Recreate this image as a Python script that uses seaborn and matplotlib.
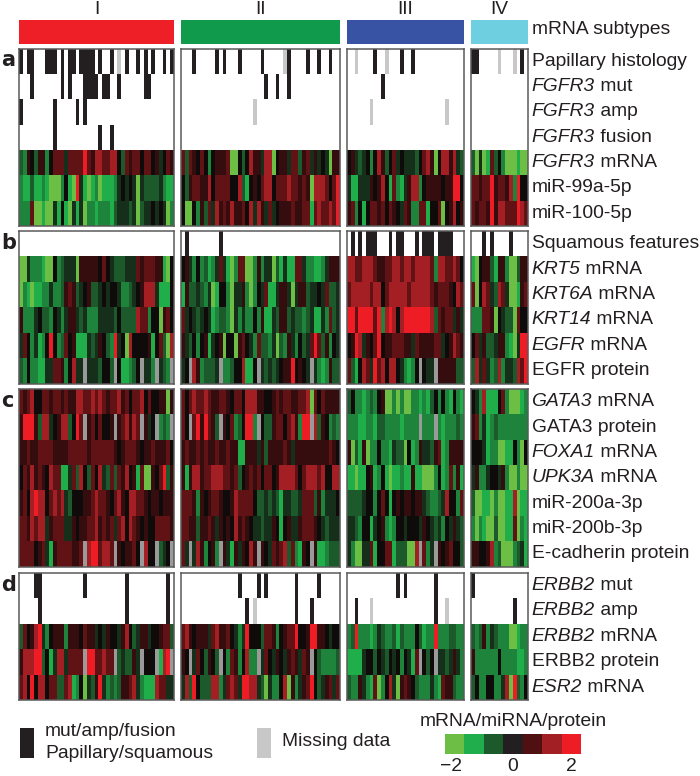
import numpy as np
import seaborn as sns
import matplotlib
matplotlib.use("Agg")
import matplotlib.pyplot as plt
from matplotlib.colors import LinearSegmentedColormap, ListedColormap
from matplotlib.transforms import ScaledTranslation

subtypes = ["I", "II", "III", "IV"]
subtype_sizes = [41, 42, 31, 15]

# level codes, light green (1) through black (6) to bright red (R), x = missing
level_values = {"1": -2, "2": -1.33, "3": -1, "4": -0.67, "5": -0.3, "6": 0,
                "7": 0.4, "8": 0.8, "9": 1.33, "R": 2}

# binary rows: sample positions per subtype
papillary = [[0, 2, 3, 7, 8, 9, 11, 13, 14, 16, 17, 18, 19, 21, 24, 28, 31, 33, 35, 38, 40],
             [3, 9, 11, 15, 21, 28, 33, 36, 39], [7, 14, 17], [0, 1, 13]]
papillary_missing = [[26], [27], [2, 10], [7, 11]]
fgfr3_mut = [[3, 11, 13, 17, 18, 19, 20, 22, 23, 26, 33, 34], [22, 25, 28], [9], []]
fgfr3_mut_missing = [[], [], [], []]
fgfr3_amp = [[0, 9, 15, 17], [], [], []]
fgfr3_amp_missing = [[], [19], [6, 26], []]
fgfr3_fusion = [[9, 21, 24], [], [], []]
fgfr3_fusion_missing = [[], [], [], []]
squamous = [[], [1, 10], [1, 3, 5, 6, 7, 11, 13, 14, 18, 20, 21, 22, 24, 25, 26, 27], [3, 5, 10]]
squamous_missing = [[], [], [], []]
erbb2_mut = [[4, 5, 17, 28, 39], [15, 20, 22, 30, 36], [13, 15, 23], [0]]
erbb2_mut_missing = [[], [], [], []]
erbb2_amp = [[5, 28, 39], [17, 30, 34], [2, 23], [11]]
erbb2_amp_missing = [[], [19], [6, 26], []]

# heat rows: one string per subtype
fgfr3_mrna = ["4376477368 8858888R87 9988996487 8868867568 7",
              "8487686367 7781164697 7599167758 8478575651 77",
              "6754563697 4685655546 8971699795 4", "415128463111211"]
mir99a = ["3224223211 13621R5212 3122235656 5154444532 2",
          "6478877968 8886694267 6899688898 8787199986 8R",
          "5225557679 6283257993 67777677RR 6", "88788R788793R66"]
mir100 = ["3338112115 2621525133 2333245554 5145565651 3",
          "6116374859 7879778695 9758567778 7788289889 8R",
          "7836268878 6876587338 8266816796 7", "87887R799888R98"]
krt5 = ["1153332116 3455517777 7686544455 5878887721 6",
        "6753634235 8521388113 7355142522 8853322357 77",
        "9988999877 8899899899 9983998898 6", "216774277311477"]
krt6a = ["1321223353 3478745674 4565665334 5679995222 6",
         "2744543512 6631557313 6582257751 5774556584 45",
         "8999998996 8999998999 9987888769 8", "816985498511278"]
krt14 = ["7333564436 5357754533 3555546444 4988366178 6",
         "8565456523 4431535336 3722547745 4434522538 45",
         "RR8RRRR8R3 9R969RRRRR RR94878857 5", "333887165441866"]
egfr_mrna = ["58635236R6 3486722254 57643R5619 6666726841 9",
             "7546367256 7166178653 8443514375 364 58R8473 65",
             "67R95768R6 7788877587 7778856798 7", "6857445773215RR"]
egfr_prot = ["4363322558 8736955x55 54664x6223 46x553x543 x",
             "56x9734445 x334669226 x54545677R 6765x53237 44",
             "8426985R89 699653236x 655x777774 4", "49585349355498R"]
gata3_mrna = ["8789668878 8787799889 8987889786 8896866771 7",
              "8689889877 8876886999 7766787887 7889186877 77",
              "4633234367 1131311332 3246363263 2", "653922268311123"]
gata3_prot = ["7RRR749956 79946R8x78 68667x7897 98x756x343 x",
              "86x8R7R874 x76834 6RR3 x644788689 73RRx94763 43",
              "3332233244 333323333x 333x323334 3", "783523433333333"]
foxa1 = ["7787788887 7778888878 8888876788 8767787778 6",
         "7877878778 7787722777 5747777875 7777777778 76",
         "7142713363 3254416237 5547823777 7", "666523311226316"]
upk3a = ["6879787698 8225849648 6954848796 72811768R4 7",
         "7279978899 9887846787 8688679999 8689998966 99",
         "2212267236 2122322722 1113623837 2", "573356657311311"]
mir200a = ["7869R99689 8954666778 9887689769 9887677677 7",
           "8887376788 7667988886 4454542554 4588847355 56",
           "4444566368 6267677677 5433459663 8", "411221311229122"]
mir200b = ["8879899578 8855767788 9787858969 8767668888 7",
           "8877477875 7676978765 5455762675 5788876545 55",
           "5543662567 3236656665 7654536575 4", "313211411228132"]
ecad = ["8888678527 8888778x9R R8998x7677 86x966x456 x",
        "85x5973673 x752757697 x765878948 3276x72234 44",
        "5311558266 8824441 19x 835x767866 4", "776679341113452"]
erbb2_mrna = ["486 79R5367 7737776877 5657665796 4577566788 4",
              "8976777589 7786535R66 6488736788 R667RR7765 66",
              "34R3332354 3342433364 233R333443 3", "434735433311233"]
erbb2_prot = ["7999RR4625 9958888xRR 889 88x4544 75x666x29R x",
              "76x5864764 x638736933 x586576578 7587x64333 34",
              "2222566465 465636528x 646x554575 3", "733333363333223"]
esr2 = ["896R699688 4489236154 7R53434778 9532229885 5",
        "594R644499 358985RR99 5415336917 3578R64578 58",
        "4337532813 6951787643 3353287743 3", "46336633591R436"]

block_a = [("b", papillary, papillary_missing), ("b", fgfr3_mut, fgfr3_mut_missing),
           ("b", fgfr3_amp, fgfr3_amp_missing), ("b", fgfr3_fusion, fgfr3_fusion_missing),
           ("h", fgfr3_mrna), ("h", mir99a), ("h", mir100)]
block_b = [("b", squamous, squamous_missing), ("h", krt5), ("h", krt6a), ("h", krt14),
           ("h", egfr_mrna), ("h", egfr_prot)]
block_c = [("h", gata3_mrna), ("h", gata3_prot), ("h", foxa1), ("h", upk3a),
           ("h", mir200a), ("h", mir200b), ("h", ecad)]
block_d = [("b", erbb2_mut, erbb2_mut_missing), ("b", erbb2_amp, erbb2_amp_missing),
           ("h", erbb2_mrna), ("h", erbb2_prot), ("h", esr2)]

# (italic part, plain part)
labels_a = [("", "Papillary histology"), ("FGFR3", " mut"), ("FGFR3", " amp"), ("FGFR3", " fusion"),
            ("FGFR3", " mRNA"), ("", "miR-99a-5p"), ("", "miR-100-5p")]
labels_b = [("", "Squamous features"), ("KRT5", " mRNA"), ("KRT6A", " mRNA"), ("KRT14", " mRNA"),
            ("EGFR", " mRNA"), ("", "EGFR protein")]
labels_c = [("GATA3", " mRNA"), ("", "GATA3 protein"), ("FOXA1", " mRNA"), ("UPK3A", " mRNA"),
            ("", "miR-200a-3p"), ("", "miR-200b-3p"), ("", "E-cadherin protein")]
labels_d = [("ERBB2", " mut"), ("ERBB2", " amp"), ("ERBB2", " mRNA"), ("", "ERBB2 protein"), ("ESR2", " mRNA")]

legend_values = [-2, -1.33, -0.67, 0, 0.67, 1.33, 2]
legend_colors = ["#6cbe45", "#1fae4b", "#1d5a2b", "#0e0b0b", "#500f10", "#a21f24", "#ee1c25"]
legend_bin_colors = ["#231f20", "#c8c8c8"]
subtype_colors = ["#ee1f27", "#0f9b4b", "#3953a4", "#6dcfe0"]

W, H = 700, 776
plt.rcParams["font.family"] = ["Liberation Sans", "DejaVu Sans"]
TXT = "#231f20"
FS = 13.9

heat_cmap = LinearSegmentedColormap.from_list(
    "gbr", [((v + 2) / 4, c) for v, c in zip(legend_values, legend_colors)])
flag_cmap = ListedColormap(["white", "#c8c8c8", "#231f20"])

fig = plt.figure(figsize=(W / 100, H / 100), dpi=100)


def px_axes(x0, y0, x1, y1):
    return fig.add_axes([x0 / W, 1 - y1 / H, (x1 - x0) / W, (y1 - y0) / H])


def draw_block(rows, j, ax):
    n = subtype_sizes[j]
    heat = np.full((len(rows), n), np.nan)
    flags = np.full((len(rows), n), np.nan)
    for r, row in enumerate(rows):
        if row[0] == "b":
            flags[r] = 0
            flags[r, row[2][j]] = 1
            flags[r, row[1][j]] = 2
        else:
            codes = row[1][j].replace(" ", "")
            assert len(codes) == n, (r, j, len(codes))
            heat[r] = [level_values.get(c, np.nan) for c in codes]
    ax.set_facecolor("#9a9a9a")
    sns.heatmap(heat, ax=ax, cmap=heat_cmap, vmin=-2, vmax=2, cbar=False,
                xticklabels=False, yticklabels=False)
    sns.heatmap(flags, ax=ax, cmap=flag_cmap, vmin=0, vmax=2, cbar=False,
                xticklabels=False, yticklabels=False)
    for s in ax.spines.values():
        s.set_visible(True)
        s.set_color("#5a5a5a")
        s.set_linewidth(1.1)


def put_label(italic, plain, y):
    if italic:
        t = fig.text(531.5 / W, 1 - y / H, italic, style="italic", fontsize=FS, color=TXT, va="center")
        plt.gca().annotate(plain, xy=(1, 0), xycoords=t, va="bottom", ha="left",
                           fontsize=FS, color=TXT, annotation_clip=False)
    else:
        fig.text(531.5 / W, 1 - y / H, plain, fontsize=FS, color=TXT, va="center")


xr = [(19, 174), (181, 340), (347, 464), (471, 528)]
yr = [(48.5, 226), (231, 383.5), (389, 566.5), (572.5, 700)]
blocks = [block_a, block_b, block_c, block_d]
block_labels = [labels_a, labels_b, labels_c, labels_d]

# subtype bars across the top
for j, (x0, x1) in enumerate(xr):
    ax = px_axes(x0, 19.5, x1, 44)
    sns.heatmap([[j]], ax=ax, cmap=ListedColormap(subtype_colors), vmin=0, vmax=3, cbar=False,
                xticklabels=False, yticklabels=False)
    fig.text((x0 + x1) / 2 / W, 1 - 9.5 / H, subtypes[j], fontsize=FS, color=TXT, ha="center", va="center")

for b, rows in enumerate(blocks):
    y0, y1 = yr[b]
    for j, (x0, x1) in enumerate(xr):
        draw_block(rows, j, px_axes(x0, y0, x1, y1))
    step = (y1 - y0) / len(rows)
    for r, (italic, plain) in enumerate(block_labels[b]):
        put_label(italic, plain, y0 + step * (r + 0.5))

put_label("", "mRNA subtypes", 29)

for letter, y in zip("abcd", [60, 243, 401, 585]):
    fig.text(1 / W, 1 - y / H, letter, fontsize=15, fontweight="bold", family="DejaVu Sans",
             color=TXT, va="center")

# legend boxes
ax = px_axes(19.5, 728, 33.5, 757.5)
sns.heatmap([[0]], ax=ax, cmap=ListedColormap(legend_bin_colors[:1]), cbar=False,
            xticklabels=False, yticklabels=False)
ax = px_axes(257, 728, 270.5, 757.5)
sns.heatmap([[0]], ax=ax, cmap=ListedColormap(legend_bin_colors[1:]), cbar=False,
            xticklabels=False, yticklabels=False)
fig.text(45 / W, 1 - 731 / H, "mut/amp/fusion", fontsize=FS, color=TXT, va="center")
fig.text(45 / W, 1 - 754 / H, "Papillary/squamous", fontsize=FS, color=TXT, va="center")
fig.text(282 / W, 1 - 742 / H, "Missing data", fontsize=FS, color=TXT, va="center")

# colour scale
ax = px_axes(445, 734, 581, 753.5)
sns.heatmap([legend_values], ax=ax, cmap=ListedColormap(["#6cbe45", "#1fae4b", "#1d5a2b", "#231f20", "#500f10", "#a21f24", "#ee1c25"]),
            vmin=-2.33, vmax=2.33, cbar=False, xticklabels=False, yticklabels=False)
ax.set_xticks([0.5, 3.5, 6.5])
ax.set_xticklabels(["\u22122", "0", "2"], fontsize=FS, color=TXT)
ax.tick_params(length=0, pad=3)
lab = ax.get_xticklabels()[0]
lab.set_transform(lab.get_transform() + ScaledTranslation(-4 / 100, 0, fig.dpi_scale_trans))
fig.text(513 / W, 1 - 722 / H, "mRNA/miRNA/protein", fontsize=FS, color=TXT, ha="center", va="center")

fig.savefig("out.png", dpi=100)
